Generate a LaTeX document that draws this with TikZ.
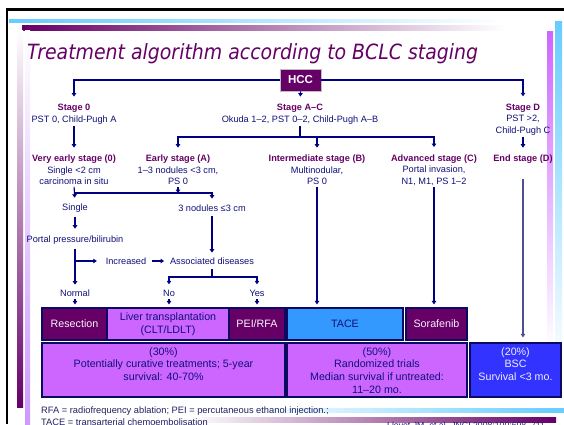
\documentclass[tikz,border=0pt]{standalone}
\usepackage{fontspec}
\setmainfont{Liberation Sans}
\newfontfamily\titlefont{DejaVu Sans}
\usetikzlibrary{arrows.meta,calc}
\definecolor{dpurple}{HTML}{660066}
\definecolor{vio}{HTML}{CC66FF}
\definecolor{ntext}{HTML}{10107A}
\definecolor{nline}{HTML}{000080}
\definecolor{bxline}{HTML}{0A0A60}
\definecolor{tacec}{HTML}{3399FF}
\definecolor{bscc}{HTML}{3333FF}
\definecolor{lblue}{HTML}{66CCFF}
\definecolor{lav}{HTML}{CC99FF}
\definecolor{grayline}{HTML}{505090}
\definecolor{foot}{HTML}{202060}
\newcommand\sttl[1]{\textbf{\color{dpurple}#1}}
\begin{document}
\begin{tikzpicture}[x=1pt,y=-1pt,
  t/.style={font=\fontsize{9.2}{11.5}\selectfont, text=ntext, align=center, inner sep=0pt, outer sep=0pt},
  ln/.style={draw=nline, line width=1.1pt},
  arr/.style={draw=nline, line width=1.1pt, -{Triangle[length=3.5pt,width=4.5pt]}},
  box/.style={draw=bxline, line width=1.2pt, inner sep=0pt, font=\fontsize{10.7}{13.5}\selectfont, align=center, minimum height=32pt},
  bbox/.style={draw=bxline, line width=1.2pt, inner sep=0pt, minimum height=54pt},
  btxt/.style={inner sep=0pt, font=\fontsize{10.7}{12.8}\selectfont, align=center, anchor=north},
  ftxt/.style={anchor=base west, inner sep=0pt, text=foot, font=\fontsize{9.3}{10}\selectfont}
]
\path[use as bounding box, fill=white] (0,0) rectangle (564,424);
% decorations
\shade[left color=lblue, right color=white] (9,19) rectangle (505,22.5);
\shade[left color=dpurple, right color=white] (22,25) rectangle (505,30);
\shade[top color=white, bottom color=dpurple] (17,30) rectangle (23,407);
\shade[top color=white, bottom color=lav] (25,30) rectangle (30,424);
\shade[top color=lblue, bottom color=white] (555,21) rectangle (562,370);
\shade[top color=vio, bottom color=white] (547,31) rectangle (553,350);
\shade[left color=white, right color=lblue] (250,408) rectangle (564,412);
\shade[left color=white, right color=dpurple] (190,417) rectangle (556,422);
\draw[line width=2.4pt] (7,424) -- (7,9.5) -- (564,9.5);

% title
\node[anchor=base west, inner sep=0pt, text=dpurple, font=\titlefont\itshape\fontsize{21}{21}\selectfont, xscale=0.9] (title) at (27,59) {Treatment algorithm according to BCLC staging};

% HCC
\node[fill=dpurple, draw=gray!50, line width=0.6pt, text=white, font=\bfseries\fontsize{11.5}{12}\selectfont, minimum width=41pt, minimum height=22pt, inner sep=0pt] (hcc) at (300.5,80) {HCC};

% stages
\node[t] (s0) at (74,114) {\sttl{Stage 0}\\PST 0, Child-Pugh A};
\node[t] (sac) at (300,114) {\sttl{Stage A–C}\\Okuda 1–2, PST 0–2, Child-Pugh A–B};
\node[t] (sd) at (523,119.5) {\sttl{Stage D}\\PST >2,\\Child-Pugh C};

\node[t] (ve) at (74,170) {\sttl{Very early stage (0)}\\Single <2 cm\\carcinoma in situ};
\node[t] (ea) at (178,170) {\sttl{Early stage (A)}\\1–3 nodules <3 cm,\\PS 0};
\node[t] (ib) at (317,170) {\sttl{Intermediate stage (B)}\\Multinodular,\\PS 0};
\node[t] (ac) at (434,170) {\sttl{Advanced stage (C)}\\Portal invasion,\\N1, M1, PS 1–2};
\node[t] (ed) at (523,159) {\sttl{End stage (D)}};

\node[t] (single) at (75,208) {Single};
\node[t] (n3) at (212,208) {3 nodules ≤3 cm};
\node[t] (portal) at (75,240) {Portal pressure/bilirubin};
\node[t] (incr) at (126,261) {Increased};
\node[t] (assoc) at (212,261) {Associated diseases};
\node[t] (normal) at (75,293) {Normal};
\node[t] (no) at (169,293) {No};
\node[t] (yes) at (257,293) {Yes};

% boxes row 1
\node[box, fill=dpurple, text=white!92!vio, minimum width=65pt] (res) at (74.5,324) {Resection};
\node[box, fill=vio, text=ntext, minimum width=122pt] (lt) at (168,324) {Liver transplantation\\(CLT/LDLT)};
\node[box, fill=dpurple, text=white!92!vio, minimum width=56pt] (pei) at (257,324) {PEI/RFA};
\node[box, fill=tacec, text=ntext, minimum width=116pt] (tace) at (345,324) {TACE};
\node[box, fill=dpurple, text=white!88!vio, minimum width=61pt] (sor) at (436.5,324) {Sorafenib};
% boxes row 2
\node[bbox, fill=vio, minimum width=243pt] (cur) at (163.5,370) {};
\node[bbox, fill=vio, minimum width=180pt] (rnd) at (377,370) {};
\node[bbox, fill=bscc, minimum width=91pt] (bsc) at (515.5,370) {};
\node[btxt, text=ntext] (curt) at ($(cur.north)+(0,4.7)$) {(30\%)\\Potentially curative treatments; 5-year\\survival: 40-70\%};
\node[btxt, text=ntext] (rndt) at ($(rnd.north)+(0,4.7)$) {(50\%)\\Randomized trials\\Median survival if untreated:\\11–20 mo.};
\node[btxt, text=white!92!bscc] (bsct) at ($(bsc.north)+(0,4.7)$) {(20\%)\\BSC\\Survival <3 mo.};

% connectors
\draw[arr, shorten >=7.5pt] (hcc.west) -| (s0.north);
\draw[arr, shorten >=7.5pt] (hcc.east) -| (sd.north);
\draw[arr, shorten >=7.5pt] (hcc.south) -- (sac.north);

\draw[arr, shorten <=2pt, shorten >=7.5pt] (s0.south) -- (ve.north);
\coordinate (jac) at (300,137);
\draw[ln, shorten <=2pt] (sac.south) -- (jac);
\draw[arr, shorten >=7.5pt] (jac) -| (ea.north);
\draw[arr, shorten >=7.5pt] (jac) -| (ac.north);
\draw[arr, shorten >=7.5pt] (ib.north |- jac) -- (ib.north);
\draw[arr, shorten <=2pt, shorten >=7pt] (sd.south) -- (ed.north);

\coordinate (jve) at (75,193);
\draw[arr, shorten <=2pt, shorten >=6pt] (ve.south) -- (single.north);
\draw[arr, shorten >=6pt] (jve) -| (n3.north);
\draw[arr, shorten <=2pt] (ea.south) -- (ea.south |- jve);

\draw[arr, shorten <=5pt, shorten >=7pt] (single.south) -- (portal.north);
\draw[arr, shorten <=5pt, shorten >=5pt] (portal.south) -- (normal.north);
\coordinate (jp) at (75,261);
\draw[arr, shorten >=9pt] (jp) -- (incr.west);
\draw[arr, shorten <=6pt, shorten >=6pt] (incr.east) -- (assoc.west);
\draw[arr, shorten <=5pt, shorten >=5pt] (n3.south) -- (assoc.north);
\coordinate (jas) at (212,277);
\draw[ln, shorten <=5pt] (assoc.south) -- (jas);
\draw[arr, shorten >=5.5pt] (jas) -| (no.north);
\draw[arr, shorten >=5.5pt] (jas) -| (yes.north);

\draw[arr, shorten <=3pt, shorten >=3pt] (normal.south) -- (normal.south |- res.north);
\draw[arr, shorten <=3pt, shorten >=3pt] (no.south) -- (no.south |- lt.north);
\draw[arr, shorten <=3pt, shorten >=3pt] (yes.south) -- (yes.south |- pei.north);
\draw[arr, shorten <=2pt, shorten >=3pt] (ib.south) -- (ib.south |- tace.north);
\draw[arr, shorten <=2pt, shorten >=3pt] (ac.south) -- (ac.south |- sor.north);
\draw[draw=grayline, line width=1.3pt, -{Triangle[length=3.5pt,width=4.5pt]}, shorten <=16pt, shorten >=5pt] (ed.south) -- (ed.south |- bsc.north);

% footer
\node[ftxt] (f1) at (41,413.5) {RFA = radiofrequency ablation; PEI = percutaneous ethanol injection.;};
\node[ftxt] (f2) at (41,425.5) {TACE = transarterial chemoembolisation};
\node[ftxt, font=\fontsize{8.7}{10}\selectfont] (f3) at (387,428.5) {Llovet JM, et al. JNCI 2008;100:698–711};
\end{tikzpicture}
\end{document}
